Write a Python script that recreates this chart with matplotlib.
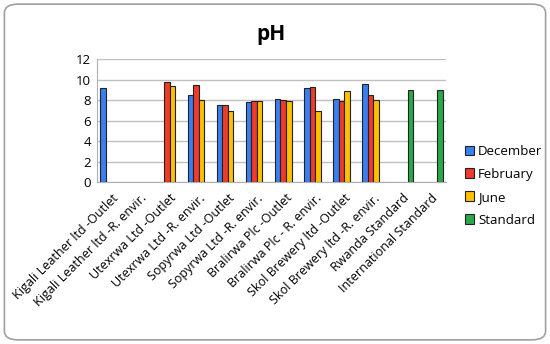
import matplotlib.pyplot as plt
import numpy as np
from matplotlib.patches import FancyBboxPatch

plt.rcParams['font.family'] = ['Open Sans', 'DejaVu Sans']

sites = ['Kigali Leather ltd -Outlet', 'Kigali Leather ltd -R. envir.',
         'Utexrwa Ltd -Outlet', 'Utexrwa Ltd -R. envir.',
         'Sopyrwa Ltd -Outlet', 'Sopyrwa Ltd -R. envir.',
         'Bralirwa Plc -Outlet', 'Bralirwa Plc - R. envir.',
         'Skol Brewery ltd -Outlet', 'Skol Brewery ltd -R. envir.',
         'Rwanda Standard', 'International Standard']
december = [9.2, np.nan, np.nan, 8.5, 7.5, 7.85, 8.1, 9.2, 8.15, 9.6, np.nan, np.nan]
february = [np.nan, np.nan, 9.8, 9.5, 7.5, 7.95, 8.0, 9.3, 7.9, 8.5, np.nan, np.nan]
june = [np.nan, np.nan, 9.4, 8.05, 6.9, 7.95, 7.9, 6.9, 8.9, 8.05, np.nan, np.nan]
standard = [np.nan] * 10 + [9.0, 9.0]

series = {'December': december, 'February': february, 'June': june, 'Standard': standard}
colors = ['#3a7ff0', '#ee3b2c', '#ffc000', '#2aa84a']

fig = plt.figure(figsize=(5.5, 3.44), dpi=100)
fig.patches.append(FancyBboxPatch((0.008, 0.012), 0.984, 0.976,
                                  boxstyle='round,pad=0,rounding_size=0.025',
                                  transform=fig.transFigure, fc='white',
                                  ec='#a0a0a0', lw=1.2, zorder=-1))
ax = fig.add_axes([0.176, 0.471, 0.635, 0.357])

x = np.arange(len(sites))
w = 0.19
for i, (name, vals) in enumerate(series.items()):
    ax.bar(x + (i - 1.5) * w, vals, w, color=colors[i], edgecolor='#222222',
           linewidth=0.8, label=name, zorder=3)

ax.set_xlim(-0.5, len(sites) - 0.5)
ax.set_ylim(0, 12)
ax.set_yticks(range(0, 13, 2))
ax.grid(axis='y', color='#c0c0c0', lw=1, zorder=0)
ax.set_xticks(x)
ax.set_xticklabels(sites, rotation=45, ha='right', rotation_mode='anchor', fontsize=9)
ax.tick_params(length=0, pad=4)
ax.tick_params(axis='y', labelsize=9.5)
ax.tick_params(axis='x', pad=7)
for s in ['top', 'right']:
    ax.spines[s].set_visible(False)
for s in ['left', 'bottom']:
    ax.spines[s].set_color('#b0b0b0')

ax.set_title('pH', fontsize=15, fontweight='bold', pad=14)
ax.legend(loc='center left', bbox_to_anchor=(1.02, -0.03), frameon=False,
          fontsize=9.5, handlelength=0.7, handleheight=0.7, handletextpad=0.3,
          labelspacing=0.75)

fig.savefig('out.png')
